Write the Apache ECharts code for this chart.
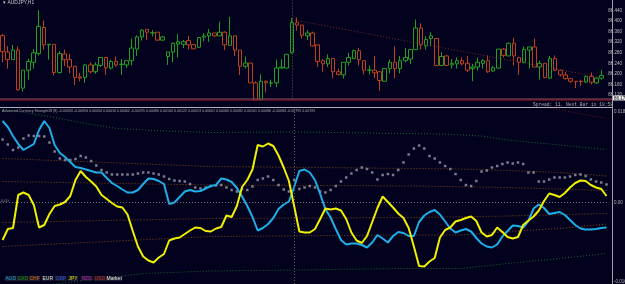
<!DOCTYPE html>
<html><head><meta charset="utf-8">
<script src="https://cdn.jsdelivr.net/npm/echarts@6/dist/echarts.min.js"></script>
<style>html,body{margin:0;padding:0;background:#02021e;}#c{width:625px;height:284px;}</style>
</head><body><div id="c"></div>
<script>
// ---------- DATA ----------
const symbolTitle = 'AUDJPY,H1';
const indicatorTitle = 'Advanced Currency Strength28 (8) -0.00033 -0.00094 0.00054 0.00016 0.00062 -0.00295 0.00080 0.00100 0.00122 0.00013 0.00001 0.00066 0.00082 0.00101 0.00086 -0.00084 -0.00795 0.00195';
const spreadText = 'Spread: 11. Next Bar in 18:58';
const barCount = 117;
// candles: [open, close, low, high]
const candles = [
[86.345,86.284,86.244,86.352],[86.283,86.254,86.220,86.306],[86.254,86.290,86.254,86.310],[86.290,86.140,86.136,86.304],
[86.146,86.214,86.133,86.214],[86.214,86.247,86.178,86.258],[86.244,86.280,86.220,86.294],[86.277,86.380,86.270,86.442],
[86.376,86.310,86.292,86.402],[86.310,86.312,86.254,86.312],[86.312,86.205,86.194,86.312],[86.205,86.277,86.202,86.286],
[86.276,86.254,86.230,86.292],[86.254,86.226,86.202,86.276],[86.229,86.186,86.157,86.229],[86.189,86.184,86.172,86.204],
[86.186,86.234,86.166,86.238],[86.234,86.208,86.202,86.244],[86.208,86.234,86.200,86.244],[86.232,86.262,86.226,86.262],
[86.262,86.223,86.196,86.262],[86.222,86.247,86.216,86.254],[86.247,86.234,86.226,86.266],[86.236,86.237,86.196,86.256],
[86.234,86.250,86.222,86.250],[86.250,86.298,86.232,86.334],[86.294,86.340,86.268,86.346],[86.340,86.366,86.326,86.370],
[86.369,86.358,86.328,86.369],[86.355,86.356,86.342,86.366],[86.358,86.328,86.326,86.358],[86.328,86.340,86.326,86.344],
[86.266,86.283,86.234,86.283],[86.283,86.316,86.244,86.319],[86.313,86.322,86.262,86.352],[86.312,86.322,86.298,86.328],
[86.326,86.310,86.292,86.344],[86.311,86.295,86.295,86.311],[86.301,86.338,86.298,86.340],[86.339,86.344,86.323,86.354],
[86.344,86.355,86.322,86.370],[86.355,86.344,86.340,86.355],[86.344,86.358,86.344,86.398],[86.358,86.310,86.290,86.362],
[86.308,86.344,86.308,86.416],[86.344,86.290,86.268,86.344],[86.290,86.229,86.196,86.290],[86.229,86.241,86.220,86.266],
[86.241,86.166,86.166,86.241],[86.166,86.100,86.089,86.172],[86.100,86.172,86.098,86.198],[86.172,86.166,86.130,86.175],
[86.165,86.166,86.150,86.178],[86.166,86.222,86.150,86.254],[86.222,86.226,86.220,86.256],[86.222,86.274,86.220,86.274],
[86.280,86.394,86.277,86.412],[86.394,86.385,86.364,86.414],[86.385,86.346,86.334,86.385],[86.344,86.355,86.328,86.366],
[86.355,86.306,86.304,86.360],[86.310,86.247,86.226,86.310],[86.250,86.238,86.208,86.256],[86.238,86.258,86.226,86.274],
[86.258,86.208,86.184,86.258],[86.208,86.198,86.194,86.220],[86.196,86.244,86.182,86.244],[86.244,86.262,86.232,86.280],
[86.258,86.288,86.256,86.292],[86.288,86.254,86.232,86.298],[86.250,86.214,86.198,86.250],[86.214,86.215,86.198,86.232],
[86.214,86.204,86.184,86.268],[86.208,86.175,86.136,86.208],[86.172,86.220,86.172,86.222],[86.220,86.244,86.202,86.254],
[86.244,86.220,86.184,86.304],[86.220,86.250,86.202,86.268],[86.250,86.262,86.244,86.298],[86.256,86.292,86.238,86.292],
[86.292,86.374,86.290,86.406],[86.374,86.310,86.292,86.392],[86.306,86.330,86.292,86.342],[86.334,86.344,86.304,86.358],
[86.334,86.232,86.232,86.334],[86.232,86.266,86.230,86.283],[86.268,86.232,86.230,86.270],[86.234,86.240,86.220,86.256],
[86.238,86.250,86.220,86.262],[86.250,86.238,86.232,86.262],[86.240,86.214,86.208,86.268],[86.220,86.226,86.172,86.238],
[86.226,86.244,86.214,86.262],[86.240,86.250,86.220,86.256],[86.250,86.208,86.204,86.270],[86.211,86.223,86.208,86.230],
[86.222,86.294,86.220,86.294],[86.294,86.270,86.262,86.298],[86.268,86.316,86.268,86.319],[86.316,86.268,86.232,86.337],
[86.262,86.244,86.196,86.262],[86.244,86.292,86.240,86.304],[86.290,86.302,86.220,86.302],[86.302,86.226,86.226,86.334],
[86.226,86.240,86.178,86.250],[86.240,86.186,86.186,86.240],[86.184,86.258,86.182,86.268],[86.258,86.214,86.211,86.270],
[86.214,86.196,86.190,86.214],[86.196,86.182,86.178,86.208],[86.182,86.172,86.166,86.182],[86.172,86.171,86.146,86.172],
[86.172,86.171,86.154,86.178],[86.169,86.190,86.166,86.194],[86.190,86.168,86.160,86.205],[86.166,86.184,86.162,86.186],
[86.184,86.194,86.178,86.214]
];
const trendLine = [[56, 86.406], [116, 86.186]];
const priceMin = 86.080, priceMax = 86.480, priceStep = 0.040;

// indicator values in units of 0.0001
const jpyStrength = [
-76,-54,-52,14,19,14,-6,-51,-46,-24,-8,-5,0,12,44,62,50,41,31,14,
6,-2,-9,-11,-25,-58,-89,-109,-117,-121,-111,-104,-77,-73,-71,-64,-57,-51,-52,-58,
-59,-53,-50,-27,-30,-8,30,44,65,114,111,117,112,93,69,42,-8,-59,-61,-61,
-54,-34,-13,-15,-13,-17,-34,-61,-77,-82,-68,-40,-12,11,0,-11,-23,-32,-52,-89,
-128,-129,-119,-112,-71,-56,-51,-39,-36,-32,-29,-38,-61,-69,-66,-51,-60,-70,-73,-70,
-46,-37,-29,-17,2,17,14,10,18,29,38,43,42,34,29,26,12
];
const audStrength = [
162,150,132,116,104,110,116,144,162,148,114,98,90,80,70,68,65,62,59,59,
48,38,32,25,19,19,24,36,47,46,42,36,-4,-1,10,21,24,21,22,27,
32,34,47,45,40,28,11,-8,-30,-57,-52,-44,-32,-14,-5,1,30,62,65,59,
44,16,-14,-31,-54,-76,-85,-83,-83,-86,-91,-81,-66,-73,-81,-68,-60,-62,-68,-68,
-40,-27,-20,-16,-25,-39,-53,-61,-57,-54,-59,-72,-83,-89,-91,-85,-69,-58,-47,-48,
-51,-38,-13,-5,-12,-24,-22,-20,-26,-36,-46,-53,-55,-55,-54,-52,-51
];
const marketStrength = [
125,115,104,109,127,133,132,132,131,119,101,87,84,84,86,92,89,82,73,64,
59,55,55,55,55,55,57,59,59,57,55,51,46,43,42,41,36,29,27,29,
32,33,34,29,24,21,26,24,31,44,47,51,44,34,25,21,44,26,29,32,
29,21,19,24,32,41,49,57,64,69,66,59,45,54,56,54,64,79,95,107,
113,107,92,87,79,72,66,56,44,34,32,42,61,63,69,72,76,79,77,79,
76,59,59,41,41,45,49,49,49,51,54,55,52,45,41,39,35
];
const bandGreenTop = [[0,184],[3,181],[9,171],[16,157],[22,147],[29,143],[40,139],[57,140],[76,137],[85,136],[92,132],[97,124],[107,114],[116,105]];
const bandMaroon = [[95,207],[104,190],[116,167]];
const bandOrange1 = [[0,87],[40,71],[79,67],[88,66],[97,63],[107,59],[116,52]];
const bandOrange2 = [[0,41],[40,34],[79,32],[97,29],[116,23]];
const bandOrange3 = [[0,-41],[40,-33],[79,-31],[97,-28],[116,-23]];
const bandOrange4 = [[0,-89],[40,-69],[79,-66],[88,-66],[97,-59],[107,-53],[116,-44]];
const bandGreenBottom = [[0,-176],[27,-143],[40,-138],[57,-136],[76,-133],[88,-133],[97,-123],[107,-113],[116,-103]];
const indMin = -164, indMax = 190;
const separatorBar = 56;
const legendNames = ['AUD','CAD','CHF','EUR','GBP','JPY','NZD','USD','Market'];
const rightLabels = ['0.0184','0.00','-0.0164'];

// ---------- STYLE ----------
const BG = '#02021e';
const legendColors = ['#1e9be0','#118a11','#e07010','#d8d8d8','#2a50d8','#d8d810','#b020b0','#d02020','#e8e8e8'];
const legendX = [5,17,29,42,55,68,81,94,106];
const categories = Array.from({length: barCount}, (_, i) => 'bar' + i);

const chart = echarts.init(document.getElementById('c'), null, {renderer: 'canvas'});
const dotted = (color) => ({color, width: 1, type: [1, 2]});
const band = (data, color) => ({type: 'line', xAxisIndex: 1, yAxisIndex: 1, data, symbol: 'none',
  lineStyle: dotted(color), silent: true, animation: false, z: 1});

const gfx = [];
gfx.push({type: 'rect', shape: {x: 0, y: 100.5, width: 625, height: 6}, style: {fill: BG}, z: 50});
gfx.push({type: 'line', shape: {x1: 0, y1: 99, x2: 612, y2: 99}, style: {stroke: '#7a5a6a', lineWidth: 1}, z: 60});
gfx.push({type: 'line', shape: {x1: 0, y1: 100, x2: 612, y2: 100}, style: {stroke: '#a01828', lineWidth: 1}, z: 60});
gfx.push({type: 'line', shape: {x1: 0, y1: 107.5, x2: 612, y2: 107.5}, style: {stroke: '#b0b0b8', lineWidth: 1}, z: 60});
gfx.push({type: 'line', shape: {x1: 612.5, y1: 0, x2: 612.5, y2: 284}, style: {stroke: '#a0a0a8', lineWidth: 1}, z: 60});
gfx.push({type: 'text', x: 3, y: 0, style: {text: '\u25BE ' + symbolTitle, fill: '#c8c8c8', font: '5px "Liberation Sans"'}, z: 60});
gfx.push({type: 'text', x: 533, y: 102, style: {text: spreadText, fill: '#a8a8a8', font: '4.6px "Liberation Mono"'}, z: 60});
gfx.push({type: 'text', x: 2, y: 108.5, style: {text: indicatorTitle, fill: '#a8a8a8', font: '3.6px "Liberation Sans"'}, z: 60});
gfx.push({type: 'rect', shape: {x: 613, y: 95.5, width: 12, height: 5}, style: {fill: '#e8e8e8'}, z: 61});
gfx.push({type: 'text', x: 614, y: 96, style: {text: '86.171', fill: '#101010', font: '4.5px "Liberation Sans"'}, z: 62});
gfx.push({type: 'text', x: 614, y: 109, style: {text: rightLabels[0], fill: '#b0b0b0', font: '4.5px "Liberation Sans"'}, z: 62});
gfx.push({type: 'text', x: 614, y: 200, style: {text: rightLabels[1], fill: '#b0b0b0', font: '4.5px "Liberation Sans"'}, z: 62});
gfx.push({type: 'text', x: 614, y: 279.5, style: {text: rightLabels[2], fill: '#b0b0b0', font: '4.5px "Liberation Sans"'}, z: 62});
gfx.push({type: 'text', x: 1, y: 199, style: {text: '0.00', fill: '#909090', font: '4px "Liberation Sans"'}, z: 62});
legendNames.forEach((n, k) => {
  gfx.push({type: 'text', x: legendX[k], y: 276, style: {text: n, fill: legendColors[k], font: '5px "Liberation Sans"',
    backgroundColor: '#1c1c2c', padding: [0, 0.5]}, z: 62});
});

chart.setOption({
  backgroundColor: BG,
  animation: false,
  grid: [
    {left: -1.6, right: 15.9, top: -5.56, height: 111.1},
    {left: -1.6, right: 15.9, top: 107, height: 177}
  ],
  xAxis: [
    {type: 'category', gridIndex: 0, data: categories, show: false, boundaryGap: true},
    {type: 'category', gridIndex: 1, data: categories, show: false, boundaryGap: true}
  ],
  yAxis: [
    {type: 'value', gridIndex: 0, position: 'right', min: priceMin, max: priceMax, interval: priceStep, scale: true,
     axisLine: {show: false}, axisTick: {show: false}, splitLine: {show: false},
     axisLabel: {color: '#c0c0c0', fontSize: 4.5, margin: 4, showMinLabel: false, showMaxLabel: false,
       fontFamily: 'Liberation Sans', formatter: v => v.toFixed(3)}},
    {type: 'value', gridIndex: 1, min: indMin, max: indMax, show: false, splitLine: {show: false}}
  ],
  series: [
    {type: 'candlestick', xAxisIndex: 0, yAxisIndex: 0, data: candles, barWidth: 4,
     itemStyle: {color: BG, color0: BG, borderColor: '#1fa01f', borderColor0: '#c0401c', borderWidth: 1},
     markLine: {symbol: 'none', silent: true, label: {show: false},
       lineStyle: {color: '#6a5a50', type: [1, 2], width: 1}, data: [{xAxis: separatorBar}]}},
    {type: 'line', xAxisIndex: 0, yAxisIndex: 0, data: trendLine, symbol: 'none',
     lineStyle: {color: '#7a2a2a', width: 1, type: [1, 2]}},
    band(bandGreenTop, '#1a6a2a'),
    band(bandMaroon, '#6a1818'),
    band(bandOrange1, '#8a4a14'),
    band(bandOrange2, '#8a4a14'),
    band(bandOrange3, '#8a4a14'),
    band(bandOrange4, '#8a4a14'),
    band(bandGreenBottom, '#1a6a2a'),
    {type: 'line', xAxisIndex: 1, yAxisIndex: 1, data: [], symbol: 'none',
     markLine: {symbol: 'none', silent: true, label: {show: false}, lineStyle: {color: '#6e6e76', type: [1, 2], width: 1},
       data: [{yAxis: 0}, {xAxis: separatorBar, lineStyle: {color: '#6a5a50', type: [1, 2]}}]}},
    {type: 'scatter', xAxisIndex: 1, yAxisIndex: 1, data: marketStrength, symbol: 'rect', symbolSize: 2.5,
     itemStyle: {color: '#9a9aa8'}, z: 3},
    {type: 'line', xAxisIndex: 1, yAxisIndex: 1, data: audStrength, symbol: 'none',
     lineStyle: {color: '#1eaee8', width: 2}, z: 4},
    {type: 'line', xAxisIndex: 1, yAxisIndex: 1, data: jpyStrength, symbol: 'none',
     lineStyle: {color: '#f0f000', width: 2}, z: 5}
  ],
  graphic: gfx
});
</script></body></html>
